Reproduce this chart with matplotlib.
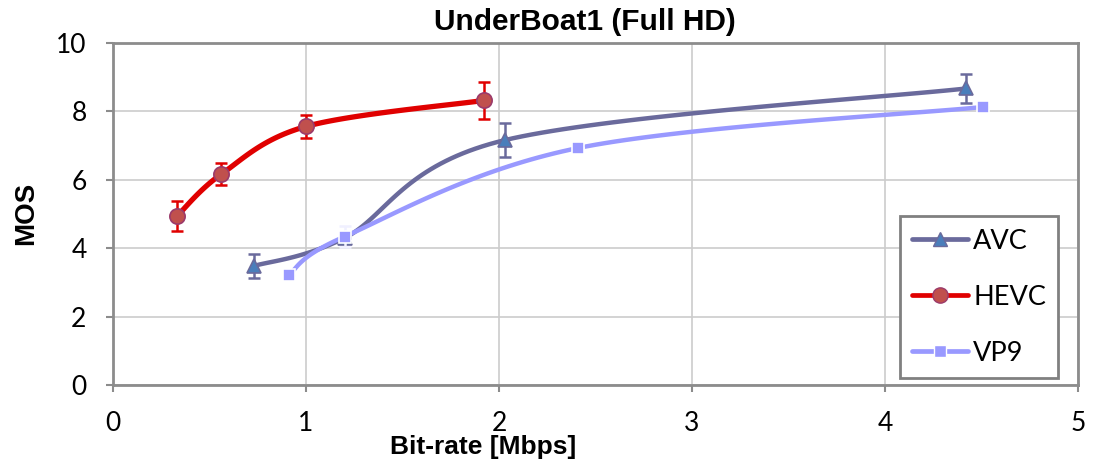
import numpy as np
import matplotlib
matplotlib.use("Agg")
import matplotlib.pyplot as plt
from matplotlib.lines import Line2D

# ---- data ----
avc_x = [0.73, 1.20, 2.03, 4.42]
avc_y = [3.48, 4.30, 7.16, 8.67]
avc_err = [0.34, 0.0, 0.49, 0.43]

hevc_x = [0.33, 0.56, 1.00, 1.92]
hevc_y = [4.93, 6.16, 7.56, 8.32]
hevc_err = [0.44, 0.32, 0.34, 0.55]

vp9_x = [0.91, 1.20, 2.41, 4.51]
vp9_y = [3.22, 4.34, 6.93, 8.13]
vp9_err = [0.0, 0.30, 0.0, 0.0]

series_names = ["AVC", "HEVC", "VP9"]
x_ticks = [0, 1, 2, 3, 4, 5]
y_ticks = [0, 2, 4, 6, 8, 10]

W, H = 1099, 461
fig = plt.figure(figsize=(W / 100, H / 100), dpi=100)
L, R, B, T = 113, 1078, 385, 43
ax = fig.add_axes([L / W, 1 - B / H, (R - L) / W, (B - T) / H])
ax.set_xlim(0, 5)
ax.set_ylim(0, 10)

sx = (R - L) / 5.0
sy = (B - T) / 10.0


def smooth(xs, ys, n=40):
    px = np.array(xs) * sx
    py = np.array(ys) * sy
    P = np.column_stack([px, py])
    out = []
    m = len(P)
    for i in range(m - 1):
        p0 = P[i - 1] if i > 0 else P[i]
        p1 = P[i]
        p2 = P[i + 1]
        p3 = P[i + 2] if i + 2 < m else P[i + 1]
        c1 = p1 + (p2 - p0) / 6.0
        c2 = p2 - (p3 - p1) / 6.0
        t = np.linspace(0, 1, n)[:, None]
        seg = ((1 - t) ** 3) * p1 + 3 * ((1 - t) ** 2) * t * c1 + 3 * (1 - t) * t ** 2 * c2 + t ** 3 * p2
        out.append(seg if i == 0 else seg[1:])
    out = np.vstack(out)
    return out[:, 0] / sx, out[:, 1] / sy


ax.grid(True, color="#cccccc", linewidth=1.2)
ax.set_axisbelow(True)
ax.set_xticks(x_ticks)
ax.set_yticks(y_ticks)
for s in ["top", "right", "left", "bottom"]:
    ax.spines[s].set_color("#8c8c8c")
    ax.spines[s].set_linewidth(2)
ax.tick_params(length=5, width=1.5, color="#8c8c8c", labelsize=19)
ax.tick_params(axis="x", pad=14)
ax.tick_params(axis="y", pad=14)
for lab in ax.get_xticklabels() + ax.get_yticklabels():
    lab.set_family("Lato")

styles = {
    "AVC": dict(line="#6a6a9c", lw=3.2, marker="^", mfc="#4a7ebb", mec="#6a6a9c", ms=10, ecol="#6a6a9c"),
    "HEVC": dict(line="#e00000", lw=3.8, marker="o", mfc="#c0504d", mec="#9b3a6a", ms=11, ecol="#e00000"),
    "VP9": dict(line="#9999ff", lw=3.2, marker="s", mfc="#9999ff", mec="#ffffff", ms=9, ecol="#f0f0ff"),
}
data = {"AVC": (avc_x, avc_y, avc_err), "HEVC": (hevc_x, hevc_y, hevc_err), "VP9": (vp9_x, vp9_y, vp9_err)}

handles = []
for z, name in enumerate(series_names):
    st = styles[name]
    xs, ys, es = data[name]
    cx, cy = smooth(xs, ys)
    ax.plot(cx, cy, color=st["line"], lw=st["lw"], solid_capstyle="round", zorder=3 + z)
    ax.errorbar(xs, ys, yerr=es, fmt="none", ecolor=st["ecol"], elinewidth=1.8,
                capsize=4, capthick=1.8, zorder=3.5 + z)
    ax.plot(xs, ys, linestyle="none", marker=st["marker"], mfc=st["mfc"], mec=st["mec"],
            mew=1.2, ms=st["ms"], zorder=3.6 + z)
    handles.append(Line2D([], [], color=st["line"], lw=3.4, marker=st["marker"],
                          mfc=st["mfc"], mec=st["mec"], ms=st["ms"], label=name,
                          solid_capstyle="round"))

leg = ax.legend(handles=handles, loc="lower right", bbox_to_anchor=(0.9795, 0.02),
                prop=dict(family="Lato", size=19.5), handlelength=2.05, handletextpad=0.2,
                labelspacing=1.15, borderpad=0.45, borderaxespad=0, fancybox=False,
                framealpha=1, edgecolor="#808080")
leg.get_frame().set_linewidth(2)

fig.text(585 / W, 1 - 22 / H, "UnderBoat1 (Full HD)", ha="center", va="center",
         fontsize=21.5, fontweight="bold", family="Liberation Sans")
fig.text(483 / W, 1 - 447 / H, "Bit-rate [Mbps]", ha="center", va="center",
         fontsize=19, fontweight="bold", family="Liberation Sans")
fig.text(26 / W, 1 - 213 / H, "MOS", ha="center", va="center", rotation=90,
         fontsize=20, fontweight="bold", family="Liberation Sans")

fig.savefig("out.png", dpi=100)
